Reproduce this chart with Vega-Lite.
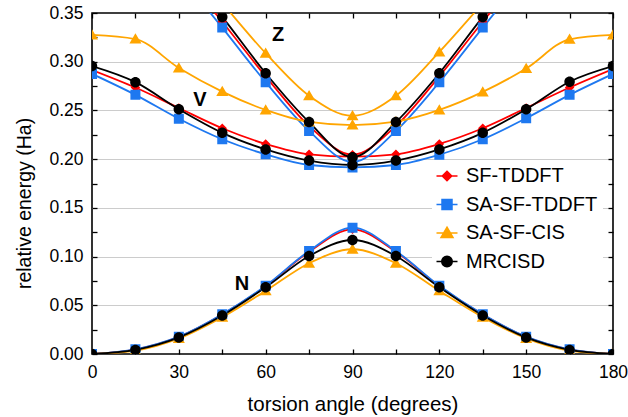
{
  "$schema": "https://vega.github.io/schema/vega-lite/v6.json",
  "width": 521,
  "height": 341,
  "autosize": {"type": "none"},
  "padding": {"left": 92, "top": 13, "right": 15, "bottom": 63},
  "background": "white",
  "config": {
    "font": "Liberation Sans",
    "view": {"stroke": "black", "strokeWidth": 1.6},
    "axis": {
      "labelFont": "Liberation Sans", "titleFont": "Liberation Sans",
      "labelColor": "black", "titleColor": "black", "tickColor": "black",
      "domain": false, "labelFontSize": 17.5, "titleFontSize": 19.5,
      "titleFontWeight": "normal", "tickWidth": 1.3, "labelOverlap": false, "labelBound": false, "labelFlush": false
    }
  },
  "datasets": {
    "curves": [
      {"angle": 0, "E": 0.0, "method": "SF-TDDFT", "state": "N"},
      {"angle": 15, "E": 0.0045, "method": "SF-TDDFT", "state": "N"},
      {"angle": 30, "E": 0.0175, "method": "SF-TDDFT", "state": "N"},
      {"angle": 45, "E": 0.0405, "method": "SF-TDDFT", "state": "N"},
      {"angle": 60, "E": 0.0695, "method": "SF-TDDFT", "state": "N"},
      {"angle": 75, "E": 0.105, "method": "SF-TDDFT", "state": "N"},
      {"angle": 90, "E": 0.128, "method": "SF-TDDFT", "state": "N"},
      {"angle": 105, "E": 0.105, "method": "SF-TDDFT", "state": "N"},
      {"angle": 120, "E": 0.0695, "method": "SF-TDDFT", "state": "N"},
      {"angle": 135, "E": 0.0405, "method": "SF-TDDFT", "state": "N"},
      {"angle": 150, "E": 0.0175, "method": "SF-TDDFT", "state": "N"},
      {"angle": 165, "E": 0.0045, "method": "SF-TDDFT", "state": "N"},
      {"angle": 180, "E": 0.0, "method": "SF-TDDFT", "state": "N"},
      {"angle": 0, "E": 0.2915, "method": "SF-TDDFT", "state": "V"},
      {"angle": 15, "E": 0.2735, "method": "SF-TDDFT", "state": "V"},
      {"angle": 30, "E": 0.2525, "method": "SF-TDDFT", "state": "V"},
      {"angle": 45, "E": 0.2317, "method": "SF-TDDFT", "state": "V"},
      {"angle": 60, "E": 0.2156, "method": "SF-TDDFT", "state": "V"},
      {"angle": 75, "E": 0.205, "method": "SF-TDDFT", "state": "V"},
      {"angle": 90, "E": 0.2025, "method": "SF-TDDFT", "state": "V"},
      {"angle": 105, "E": 0.205, "method": "SF-TDDFT", "state": "V"},
      {"angle": 120, "E": 0.2156, "method": "SF-TDDFT", "state": "V"},
      {"angle": 135, "E": 0.2317, "method": "SF-TDDFT", "state": "V"},
      {"angle": 150, "E": 0.2525, "method": "SF-TDDFT", "state": "V"},
      {"angle": 165, "E": 0.2735, "method": "SF-TDDFT", "state": "V"},
      {"angle": 180, "E": 0.2925, "method": "SF-TDDFT", "state": "V"},
      {"angle": 30, "E": 0.395, "method": "SF-TDDFT", "state": "Z"},
      {"angle": 45, "E": 0.341, "method": "SF-TDDFT", "state": "Z"},
      {"angle": 60, "E": 0.285, "method": "SF-TDDFT", "state": "Z"},
      {"angle": 75, "E": 0.234, "method": "SF-TDDFT", "state": "Z"},
      {"angle": 90, "E": 0.2045, "method": "SF-TDDFT", "state": "Z"},
      {"angle": 105, "E": 0.234, "method": "SF-TDDFT", "state": "Z"},
      {"angle": 120, "E": 0.285, "method": "SF-TDDFT", "state": "Z"},
      {"angle": 135, "E": 0.341, "method": "SF-TDDFT", "state": "Z"},
      {"angle": 150, "E": 0.395, "method": "SF-TDDFT", "state": "Z"},

      {"angle": 0, "E": 0.0, "method": "SA-SF-TDDFT", "state": "N"},
      {"angle": 15, "E": 0.0048, "method": "SA-SF-TDDFT", "state": "N"},
      {"angle": 30, "E": 0.0178, "method": "SA-SF-TDDFT", "state": "N"},
      {"angle": 45, "E": 0.0408, "method": "SA-SF-TDDFT", "state": "N"},
      {"angle": 60, "E": 0.07, "method": "SA-SF-TDDFT", "state": "N"},
      {"angle": 75, "E": 0.1057, "method": "SA-SF-TDDFT", "state": "N"},
      {"angle": 90, "E": 0.1297, "method": "SA-SF-TDDFT", "state": "N"},
      {"angle": 105, "E": 0.1057, "method": "SA-SF-TDDFT", "state": "N"},
      {"angle": 120, "E": 0.07, "method": "SA-SF-TDDFT", "state": "N"},
      {"angle": 135, "E": 0.0408, "method": "SA-SF-TDDFT", "state": "N"},
      {"angle": 150, "E": 0.0178, "method": "SA-SF-TDDFT", "state": "N"},
      {"angle": 165, "E": 0.0048, "method": "SA-SF-TDDFT", "state": "N"},
      {"angle": 180, "E": 0.0, "method": "SA-SF-TDDFT", "state": "N"},
      {"angle": 0, "E": 0.2875, "method": "SA-SF-TDDFT", "state": "V"},
      {"angle": 15, "E": 0.266, "method": "SA-SF-TDDFT", "state": "V"},
      {"angle": 30, "E": 0.2415, "method": "SA-SF-TDDFT", "state": "V"},
      {"angle": 45, "E": 0.2204, "method": "SA-SF-TDDFT", "state": "V"},
      {"angle": 60, "E": 0.205, "method": "SA-SF-TDDFT", "state": "V"},
      {"angle": 75, "E": 0.194, "method": "SA-SF-TDDFT", "state": "V"},
      {"angle": 90, "E": 0.1915, "method": "SA-SF-TDDFT", "state": "V"},
      {"angle": 105, "E": 0.194, "method": "SA-SF-TDDFT", "state": "V"},
      {"angle": 120, "E": 0.2045, "method": "SA-SF-TDDFT", "state": "V"},
      {"angle": 135, "E": 0.2204, "method": "SA-SF-TDDFT", "state": "V"},
      {"angle": 150, "E": 0.242, "method": "SA-SF-TDDFT", "state": "V"},
      {"angle": 165, "E": 0.266, "method": "SA-SF-TDDFT", "state": "V"},
      {"angle": 180, "E": 0.2875, "method": "SA-SF-TDDFT", "state": "V"},
      {"angle": 30, "E": 0.39, "method": "SA-SF-TDDFT", "state": "Z"},
      {"angle": 45, "E": 0.335, "method": "SA-SF-TDDFT", "state": "Z"},
      {"angle": 60, "E": 0.279, "method": "SA-SF-TDDFT", "state": "Z"},
      {"angle": 75, "E": 0.229, "method": "SA-SF-TDDFT", "state": "Z"},
      {"angle": 90, "E": 0.197, "method": "SA-SF-TDDFT", "state": "Z"},
      {"angle": 105, "E": 0.229, "method": "SA-SF-TDDFT", "state": "Z"},
      {"angle": 120, "E": 0.279, "method": "SA-SF-TDDFT", "state": "Z"},
      {"angle": 135, "E": 0.335, "method": "SA-SF-TDDFT", "state": "Z"},
      {"angle": 150, "E": 0.39, "method": "SA-SF-TDDFT", "state": "Z"},

      {"angle": 0, "E": 0.0, "method": "SA-SF-CIS", "state": "N"},
      {"angle": 15, "E": 0.0035, "method": "SA-SF-CIS", "state": "N"},
      {"angle": 30, "E": 0.016, "method": "SA-SF-CIS", "state": "N"},
      {"angle": 45, "E": 0.0378, "method": "SA-SF-CIS", "state": "N"},
      {"angle": 60, "E": 0.0648, "method": "SA-SF-CIS", "state": "N"},
      {"angle": 75, "E": 0.0932, "method": "SA-SF-CIS", "state": "N"},
      {"angle": 90, "E": 0.1075, "method": "SA-SF-CIS", "state": "N"},
      {"angle": 105, "E": 0.0932, "method": "SA-SF-CIS", "state": "N"},
      {"angle": 120, "E": 0.0648, "method": "SA-SF-CIS", "state": "N"},
      {"angle": 135, "E": 0.0378, "method": "SA-SF-CIS", "state": "N"},
      {"angle": 150, "E": 0.016, "method": "SA-SF-CIS", "state": "N"},
      {"angle": 165, "E": 0.0035, "method": "SA-SF-CIS", "state": "N"},
      {"angle": 180, "E": 0.0, "method": "SA-SF-CIS", "state": "N"},
      {"angle": 0, "E": 0.3275, "method": "SA-SF-CIS", "state": "V"},
      {"angle": 15, "E": 0.3232, "method": "SA-SF-CIS", "state": "V"},
      {"angle": 30, "E": 0.2936, "method": "SA-SF-CIS", "state": "V"},
      {"angle": 45, "E": 0.2693, "method": "SA-SF-CIS", "state": "V"},
      {"angle": 60, "E": 0.2505, "method": "SA-SF-CIS", "state": "V"},
      {"angle": 75, "E": 0.2382, "method": "SA-SF-CIS", "state": "V"},
      {"angle": 90, "E": 0.235, "method": "SA-SF-CIS", "state": "V"},
      {"angle": 105, "E": 0.2385, "method": "SA-SF-CIS", "state": "V"},
      {"angle": 120, "E": 0.2505, "method": "SA-SF-CIS", "state": "V"},
      {"angle": 135, "E": 0.269, "method": "SA-SF-CIS", "state": "V"},
      {"angle": 150, "E": 0.293, "method": "SA-SF-CIS", "state": "V"},
      {"angle": 165, "E": 0.323, "method": "SA-SF-CIS", "state": "V"},
      {"angle": 180, "E": 0.3275, "method": "SA-SF-CIS", "state": "V"},
      {"angle": 30, "E": 0.41, "method": "SA-SF-CIS", "state": "Z"},
      {"angle": 45, "E": 0.36, "method": "SA-SF-CIS", "state": "Z"},
      {"angle": 60, "E": 0.3087, "method": "SA-SF-CIS", "state": "Z"},
      {"angle": 75, "E": 0.265, "method": "SA-SF-CIS", "state": "Z"},
      {"angle": 90, "E": 0.2445, "method": "SA-SF-CIS", "state": "Z"},
      {"angle": 105, "E": 0.265, "method": "SA-SF-CIS", "state": "Z"},
      {"angle": 120, "E": 0.31, "method": "SA-SF-CIS", "state": "Z"},
      {"angle": 135, "E": 0.36, "method": "SA-SF-CIS", "state": "Z"},
      {"angle": 150, "E": 0.41, "method": "SA-SF-CIS", "state": "Z"},

      {"angle": 0, "E": 0.0, "method": "MRCISD", "state": "N"},
      {"angle": 15, "E": 0.0042, "method": "MRCISD", "state": "N"},
      {"angle": 30, "E": 0.017, "method": "MRCISD", "state": "N"},
      {"angle": 45, "E": 0.0395, "method": "MRCISD", "state": "N"},
      {"angle": 60, "E": 0.0684, "method": "MRCISD", "state": "N"},
      {"angle": 75, "E": 0.1006, "method": "MRCISD", "state": "N"},
      {"angle": 90, "E": 0.117, "method": "MRCISD", "state": "N"},
      {"angle": 105, "E": 0.1006, "method": "MRCISD", "state": "N"},
      {"angle": 120, "E": 0.0684, "method": "MRCISD", "state": "N"},
      {"angle": 135, "E": 0.0395, "method": "MRCISD", "state": "N"},
      {"angle": 150, "E": 0.017, "method": "MRCISD", "state": "N"},
      {"angle": 165, "E": 0.0042, "method": "MRCISD", "state": "N"},
      {"angle": 180, "E": 0.0, "method": "MRCISD", "state": "N"},
      {"angle": 0, "E": 0.2955, "method": "MRCISD", "state": "V"},
      {"angle": 15, "E": 0.279, "method": "MRCISD", "state": "V"},
      {"angle": 30, "E": 0.2512, "method": "MRCISD", "state": "V"},
      {"angle": 45, "E": 0.227, "method": "MRCISD", "state": "V"},
      {"angle": 60, "E": 0.21, "method": "MRCISD", "state": "V"},
      {"angle": 75, "E": 0.1985, "method": "MRCISD", "state": "V"},
      {"angle": 90, "E": 0.194, "method": "MRCISD", "state": "V"},
      {"angle": 105, "E": 0.1985, "method": "MRCISD", "state": "V"},
      {"angle": 120, "E": 0.21, "method": "MRCISD", "state": "V"},
      {"angle": 135, "E": 0.227, "method": "MRCISD", "state": "V"},
      {"angle": 150, "E": 0.2512, "method": "MRCISD", "state": "V"},
      {"angle": 165, "E": 0.2795, "method": "MRCISD", "state": "V"},
      {"angle": 180, "E": 0.2955, "method": "MRCISD", "state": "V"},
      {"angle": 30, "E": 0.40, "method": "MRCISD", "state": "Z"},
      {"angle": 45, "E": 0.346, "method": "MRCISD", "state": "Z"},
      {"angle": 60, "E": 0.2882, "method": "MRCISD", "state": "Z"},
      {"angle": 75, "E": 0.238, "method": "MRCISD", "state": "Z"},
      {"angle": 90, "E": 0.202, "method": "MRCISD", "state": "Z"},
      {"angle": 105, "E": 0.238, "method": "MRCISD", "state": "Z"},
      {"angle": 120, "E": 0.2882, "method": "MRCISD", "state": "Z"},
      {"angle": 135, "E": 0.346, "method": "MRCISD", "state": "Z"},
      {"angle": 150, "E": 0.40, "method": "MRCISD", "state": "Z"}
    ],
    "labels": [
      {"angle": 64.3, "E": 0.3275, "text": "Z"},
      {"angle": 37.3, "E": 0.261, "text": "V"},
      {"angle": 51.8, "E": 0.0715, "text": "N"}
    ]
  },
  "layer": [
    {
      "data": {"name": "curves"},
      "mark": {"type": "line", "interpolate": "monotone", "clip": true, "strokeWidth": 1.8},
      "encoding": {
        "x": {"field": "angle", "type": "quantitative",
              "scale": {"domain": [0, 180], "nice": false, "zero": false},
              "axis": {"orient": "bottom", "title": "torsion angle (degrees)",
                       "values": [0, 15, 30, 45, 60, 75, 90, 105, 120, 135, 150, 165, 180],
                       "labelExpr": "datum.value % 30 == 0 ? datum.label : ''",
                       "tickSize": -5, "labelPadding": 14, "titlePadding": 14, "titleFontSize": 20.5, "grid": false}},
        "y": {"field": "E", "type": "quantitative",
              "scale": {"domain": [0, 0.35], "nice": false, "zero": false},
              "axis": {"orient": "left", "title": "relative energy (Ha)", "format": ".2f",
                       "values": [0, 0.025, 0.05, 0.075, 0.1, 0.125, 0.15, 0.175, 0.2, 0.225, 0.25, 0.275, 0.3, 0.325, 0.35],
                       "labelExpr": "round(datum.value * 1000) % 50 == 0 ? datum.label : ''",
                       "tickSize": -5, "labelPadding": 14, "titlePadding": 14, "titleY": 190,
                       "grid": true, "gridColor": "#cccccc", "gridWidth": 1,
                       "gridOpacity": {"condition": {"test": "round(datum.value * 1000) % 50 == 0 && datum.value > 0.001 && datum.value < 0.349", "value": 1}, "value": 0}}},
        "color": {"field": "method", "type": "nominal",
                  "scale": {"domain": ["SF-TDDFT", "SA-SF-TDDFT", "SA-SF-CIS", "MRCISD"],
                            "range": ["#ff0000", "#1e78f0", "#ffa500", "#000000"]},
                  "legend": {"orient": "none", "legendX": 340, "legendY": 148, "title": null,
                             "labelFontSize": 20, "labelFont": "Liberation Sans", "labelColor": "black",
                             "fillColor": "white", "padding": 5, "rowPadding": 8.5, "labelOffset": 9,
                             "symbolSize": 100}},
        "detail": {"field": "state"}
      }
    },
    {
      "data": {"name": "curves"},
      "mark": {"type": "point", "filled": true, "opacity": 1, "clip": true, "size": 100},
      "encoding": {
        "x": {"field": "angle", "type": "quantitative", "axis": null},
        "y": {"field": "E", "type": "quantitative", "axis": null},
        "color": {"field": "method", "type": "nominal"},
        "shape": {"field": "method", "type": "nominal",
                  "scale": {"domain": ["SF-TDDFT", "SA-SF-TDDFT", "SA-SF-CIS", "MRCISD"],
                            "range": ["M-2.1,0H2.1M0,-0.95L0.95,0L0,0.95L-0.95,0Z", "M-2.1,0H2.1M-1,-1H1V1H-1Z", "M-2.1,0H2.1M0,-1.15L1.2,0.9H-1.2Z", "M-2.1,0H2.1M-1.05,0A1.05,1.05,0,1,0,1.05,0A1.05,1.05,0,1,0,-1.05,0Z"]},
                  "legend": null}
      }
    },
    {
      "data": {"name": "labels"},
      "mark": {"type": "text", "fontWeight": "bold", "fontSize": 20, "font": "Liberation Sans", "color": "black"},
      "encoding": {
        "x": {"field": "angle", "type": "quantitative",
              "axis": {"orient": "top", "title": null, "labels": false, "grid": false,
                       "values": [0, 15, 30, 45, 60, 75, 90, 105, 120, 135, 150, 165, 180], "tickSize": -5}},
        "y": {"field": "E", "type": "quantitative",
              "axis": {"orient": "right", "title": null, "labels": false, "grid": false,
                       "values": [0, 0.025, 0.05, 0.075, 0.1, 0.125, 0.15, 0.175, 0.2, 0.225, 0.25, 0.275, 0.3, 0.325, 0.35], "tickSize": -5}},
        "text": {"field": "text"}
      }
    }
  ],
  "resolve": {"axis": {"x": "independent", "y": "independent"}}
}
